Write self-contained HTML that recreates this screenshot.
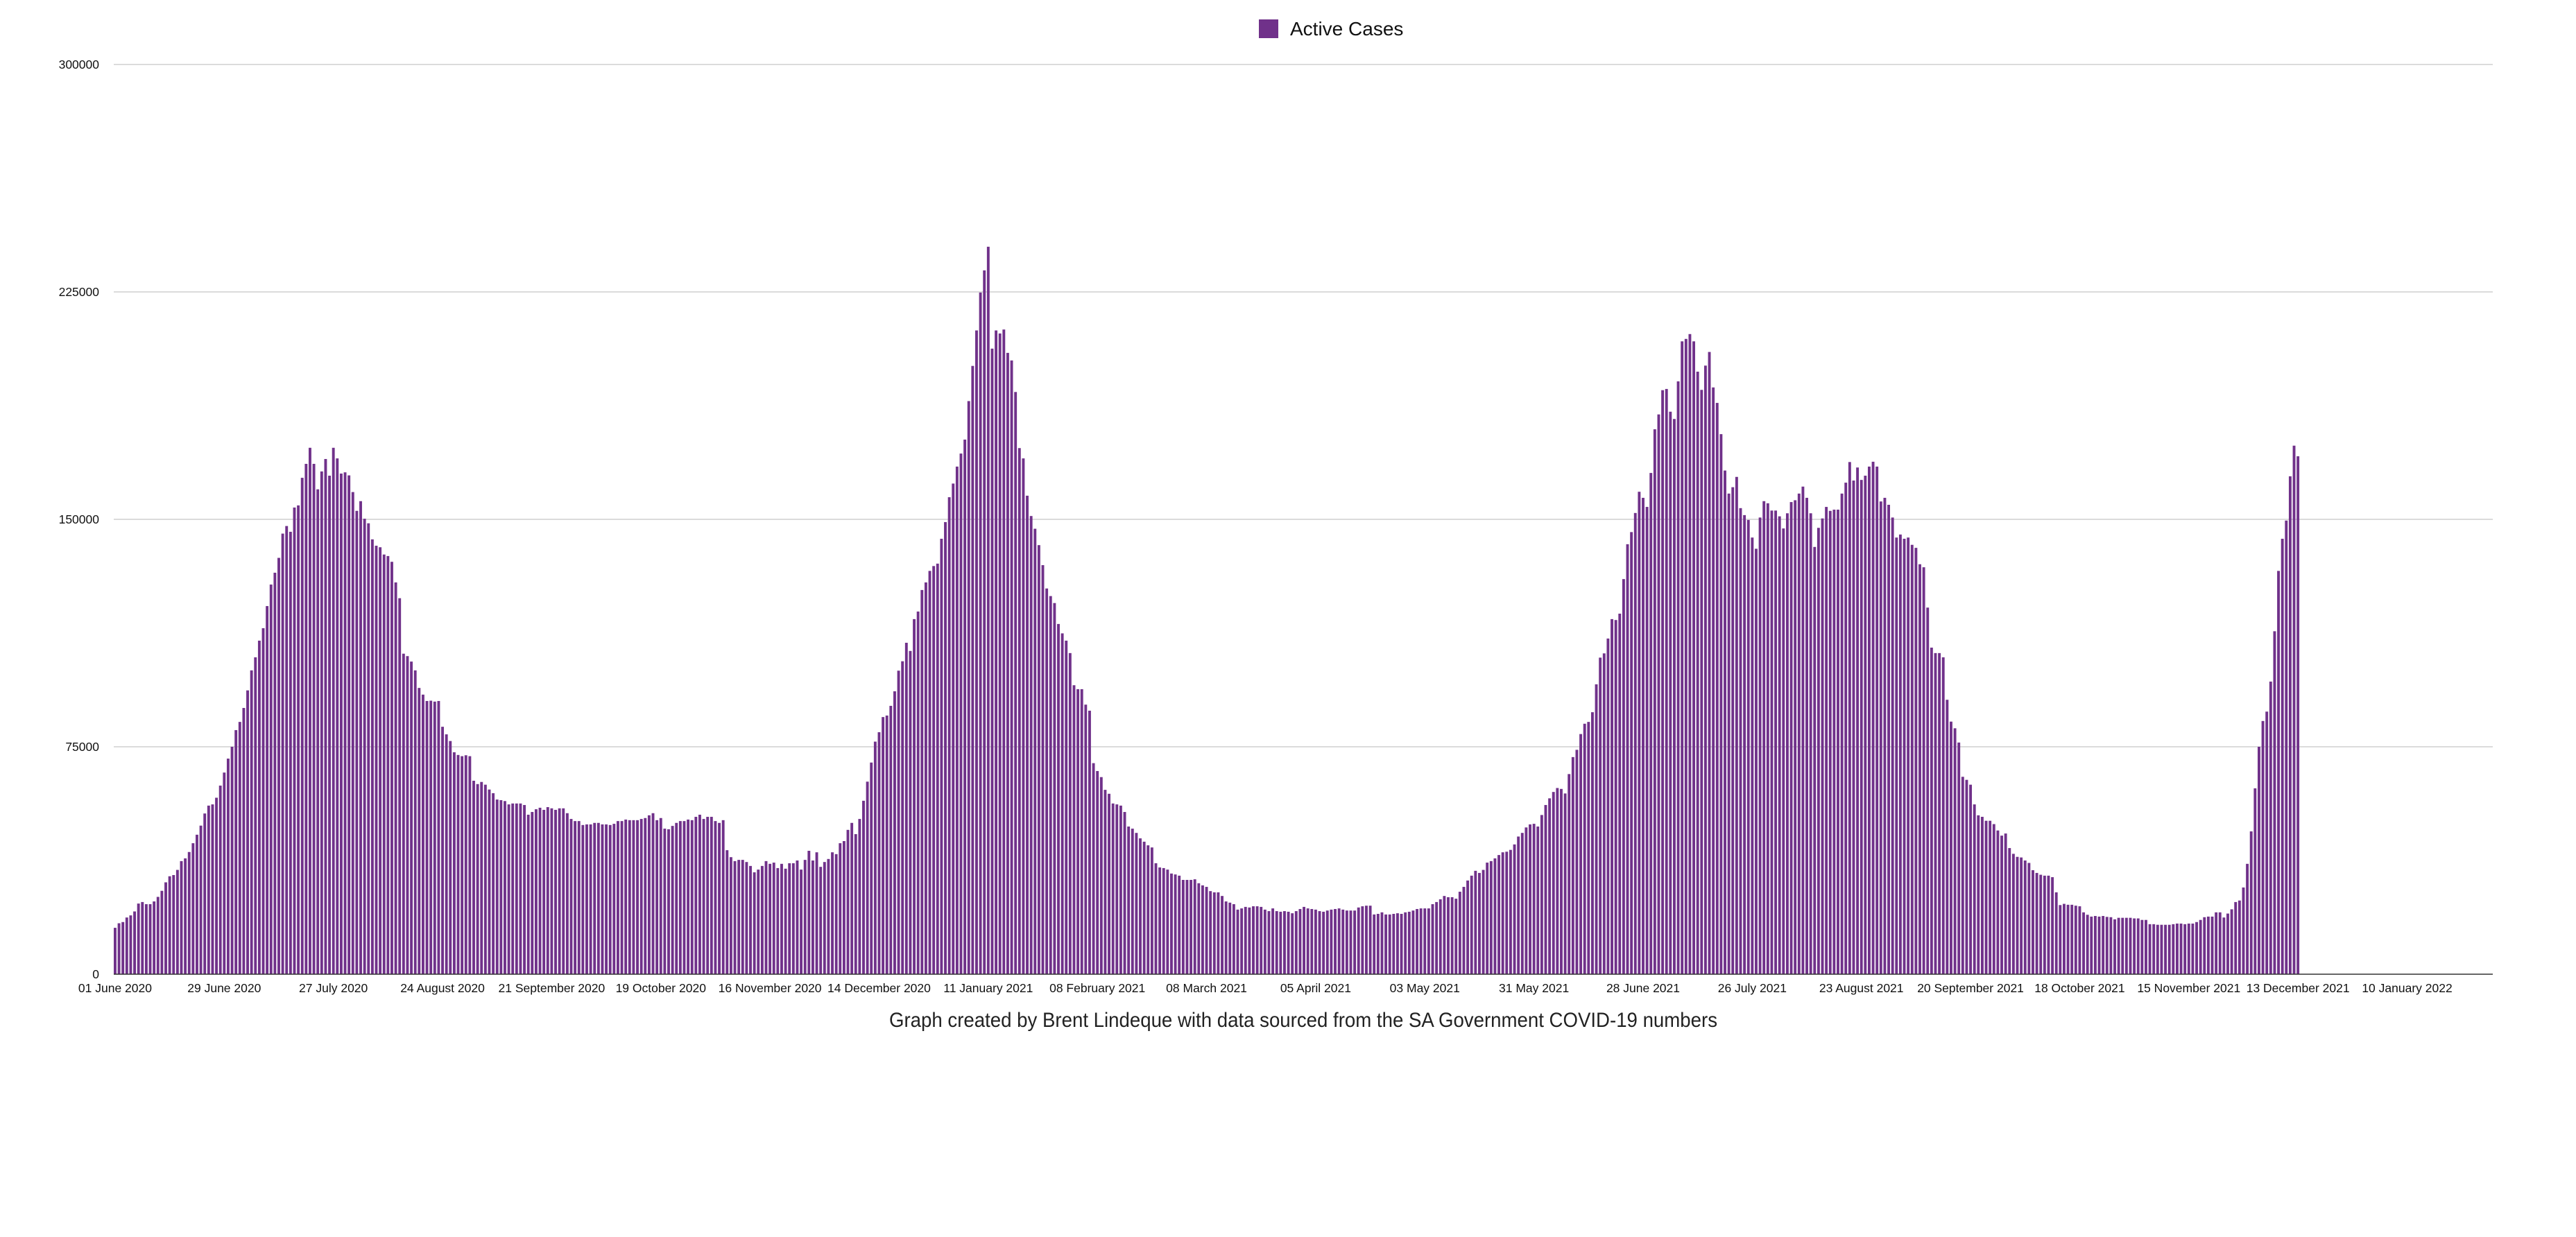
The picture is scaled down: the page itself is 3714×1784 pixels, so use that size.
<!DOCTYPE html>
<html>
<head>
<meta charset="utf-8">
<style>
  html,body{margin:0;padding:0;background:#fff;}
  svg{display:block;font-family:"Liberation Sans",Arial,sans-serif;}
</style>
</head>
<body>
<svg id="chart" width="3714" height="1784" viewBox="0 0 3714 1784" xmlns="http://www.w3.org/2000/svg">
  <rect x="0" y="0" width="3714" height="1784" fill="#ffffff"/>
  <g id="legend">
    <rect x="1815" y="28" width="28" height="27" fill="#70318a"/>
    <text x="1860" y="51" font-size="28" fill="#111">Active Cases</text>
  </g>
  <g id="grid"></g>
  <g id="yaxis"></g>
  <g id="bars"></g>
  <g id="xaxis"></g>
  <text x="1879" y="1481" font-size="30" text-anchor="middle" textLength="1194" lengthAdjust="spacingAndGlyphs" fill="#222">Graph created by Brent Lindeque with data sourced from the SA Government COVID-19 numbers</text>
</svg>
<script>
// Active cases, in thousands, one value per day starting 01 June 2020
const activeCasesThousands = [
15.3,16.8,17.2,18.7,19.4,20.7,23.3,23.8,23.1,23.1,24.0,25.5,27.5,30.3,32.3,32.7,34.4,37.3,38.2,40.3,43.2,46,49,53,55.6,
56,58.2,62.2,66.5,71.1,75,80.5,83.2,87.8,93.6,100.2,104.5,110,114.1,121.4,128.5,132.4,137.3,145.3,147.8,145.9,153.9,154.6,163.7,168.3,173.6,168.3,159.9,165.8,169.9,164.4,173.6,170.1,165.1,165.5,164.5,159,152.8,156,150.2,148.7,143.4,141.3,140.8,138.4,137.9,136,129.2,124,105.7,104.9,103.1,100.2,94.4,92.2,90.1,90.2,89.9,90.1,81.6,79.1,76.9,73.2,72.3,71.9,72.2,71.9,63.8,62.7,63.4,62.5,60.9,
59.7,57.6,57.4,57.1,56,56.3,56.3,56.3,55.8,52.6,53.5,54.4,54.9,54.2,55.1,54.7,54.2,54.7,54.7,53.1,51.2,50.5,50.5,49.2,49.4,49.4,49.9,49.9,49.4,49.4,49.2,49.6,50.5,50.5,51,50.8,50.8,50.8,51.2,51.5,52.4,53.1,50.8,51.5,48,47.8,48.9,49.9,50.5,50.5,51,50.8,51.9,52.6,51.2,51.9,51.9,50.5,49.9,50.8,40.9,38.6,37.3,37.7,37.7,37,35.7,33.6,34.5,35.7,37.3,36.4,36.8,35,36.4,34.8,36.6,36.6,37.5,34.5,37.7,40.7,37.5,40.2,35.4,37,38,40.2,39.6,43.2,43.9,47.6,49.9,46.2,51.2,
57.2,63.5,69.8,76.7,79.8,84.8,85.3,88.5,93.3,100.1,103.2,109.3,106.6,117.1,119.6,126.7,129.2,133,134.6,135.4,143.6,149.1,157.3,161.8,167.4,171.7,176.3,189,200.6,212.3,224.8,232.1,239.9,206.3,212.3,211.3,212.6,204.9,202.4,192,173.5,170.1,157.8,151.1,146.9,141.5,134.9,127.2,124.7,122.4,115.5,112.4,110,105.9,95.3,94,94,88.9,86.9,69.6,67,65,60.8,
59.5,56.3,56,55.6,53.5,48.7,48,46.6,44.8,43.7,42.5,41.8,36.6,35.2,35,34.5,33.2,32.9,32.5,31.1,31.1,31.1,31.3,30,29.3,28.8,27.4,27,27,25.8,24,23.6,23.1,21.3,21.7,22.2,22,22.4,22.4,22.2,21.3,20.8,21.7,20.8,20.6,20.8,20.6,20.1,20.8,21.5,22.2,21.7,21.5,21.3,20.8,20.6,21,21.3,21.5,21.7,21.3,21,21,21,22,22.4,22.6,22.6,19.7,19.9,20.4,19.7,19.7,19.9,20.1,19.9,20.4,20.6,21,21.5,21.7,21.7,21.7,23.1,23.8,24.7,25.8,25.4,25.4,24.9,27.2,28.8,30.9,32.5,34.1,33.4,
34.4,36.8,37.3,38.2,39.3,40.2,40.4,41,42.8,45.4,46.6,48.4,49.4,49.6,48.7,52.5,55.8,58,60.1,61.4,61.1,59.6,66,71.6,74,79.2,82.6,83.2,86.4,95.6,104.4,105.8,110.7,117.1,116.8,118.9,130.3,141.8,145.8,152.1,159.1,157.1,154.1,165.3,179.7,184.6,192.6,193,185.5,183.1,195.5,208.7,209.5,211.1,208.7,198.7,192.7,200.7,205.2,193.5,188.4,178.1,166.1,158.5,160.6,164,153.7,151.4,149.8,144,140.3,150.6,156,155.3,152.9,152.9,151,147,152,155.7,156.3,158.5,160.8,157.1,152,140.9,147.2,150.3,154.1,152.8,153.2,153.2,158.5,162.1,168.9,162.8,
167.1,163,164.4,167.4,169,167.4,155.9,157.1,154.8,150.6,144,145,143.6,144,141.6,140.6,135.2,134.2,120.9,107.7,105.9,105.9,104.5,90.5,83.3,81.1,76.4,65.1,64.1,62.5,56,52.4,51.9,50.6,50.6,49.5,47.4,45.7,46.4,41.6,39.7,38.7,38.5,37.5,36.7,34.3,33.4,32.8,32.5,32.5,32,27,22.8,23.2,22.9,22.9,22.6,22.4,20.4,19.6,19,19.2,19,19.2,18.9,18.8,18.1,18.6,18.6,18.6,18.6,18.4,18.4,17.9,17.9,16.5,16.5,16.3,16.3,16.3,16.3,16.5,16.7,16.7,16.5,16.7,16.7,17.2,17.9,18.8,19,19,20.4,20.4,18.7,20,21.4,23.8,24.3,28.6,36.4,47.1,61.3,75,83.5,86.6,96.5,113.1,133,143.6,149.6,164.2,174.3,170.8
];
const yTickValues = [0, 75000, 150000, 225000, 300000];
const yTickLabels = ["0", "75000", "150000", "225000", "300000"];
const xTickDays = [0,28,56,84,112,140,168,196,224,252,280,308,336,364,392,420,448,476,504,532,560,588];
const xTickLabels = ["01 June 2020","29 June 2020","27 July 2020","24 August 2020","21 September 2020","19 October 2020","16 November 2020","14 December 2020","11 January 2021","08 February 2021","08 March 2021","05 April 2021","03 May 2021","31 May 2021","28 June 2021","26 July 2021","23 August 2021","20 September 2021","18 October 2021","15 November 2021","13 December 2021","10 January 2022"];

const NS = "http://www.w3.org/2000/svg";
const plotLeft = 164, plotRight = 3594, plotTop = 93, plotBottom = 1405;
const yMax = 300000;
const dayStep = 5.62, barWidth = 3.9;
function yScale(v){ return plotBottom - (v / yMax) * (plotBottom - plotTop); }
function xLeft(day){ return plotLeft + day * dayStep; }
function xCenter(day){ return xLeft(day) + barWidth / 2; }
function mk(tag, attrs){ const e = document.createElementNS(NS, tag); for (const k in attrs) e.setAttribute(k, attrs[k]); return e; }

const grid = document.getElementById('grid');
const yaxis = document.getElementById('yaxis');
yTickValues.forEach((v, i) => {
  const y = yScale(v);
  if (v > 0) {
    const ln = mk('line', {x1: plotLeft, x2: plotRight, y1: y, y2: y, stroke: '#cfcfcf', 'stroke-width': 1.5});
    
    
    grid.appendChild(ln);
  }
  const t = mk('text', {x: 143, y: y + 6, 'font-size': 17.5, 'text-anchor': 'end', fill: '#111'});
  t.textContent = yTickLabels[i];
  
  
  yaxis.appendChild(t);
});

const bars = document.getElementById('bars');
activeCasesThousands.forEach((k, d) => {
  const v = k * 1000;
  const y = yScale(v);
  const r = mk('rect', {x: xLeft(d), y: y, width: barWidth, height: plotBottom - y, fill: '#70318a'});
  
  
  bars.appendChild(r);
});

const xaxis = document.getElementById('xaxis');
const base = mk('line', {x1: plotLeft, x2: plotRight, y1: plotBottom, y2: plotBottom, stroke: '#333', 'stroke-width': 1.5});


xaxis.appendChild(base);
xTickDays.forEach((d, i) => {
  const t = mk('text', {x: xCenter(d), y: 1431, 'font-size': 17.5, 'text-anchor': 'middle', fill: '#111'});
  t.textContent = xTickLabels[i];
  
  
  xaxis.appendChild(t);
});
</script>
</body>
</html>
